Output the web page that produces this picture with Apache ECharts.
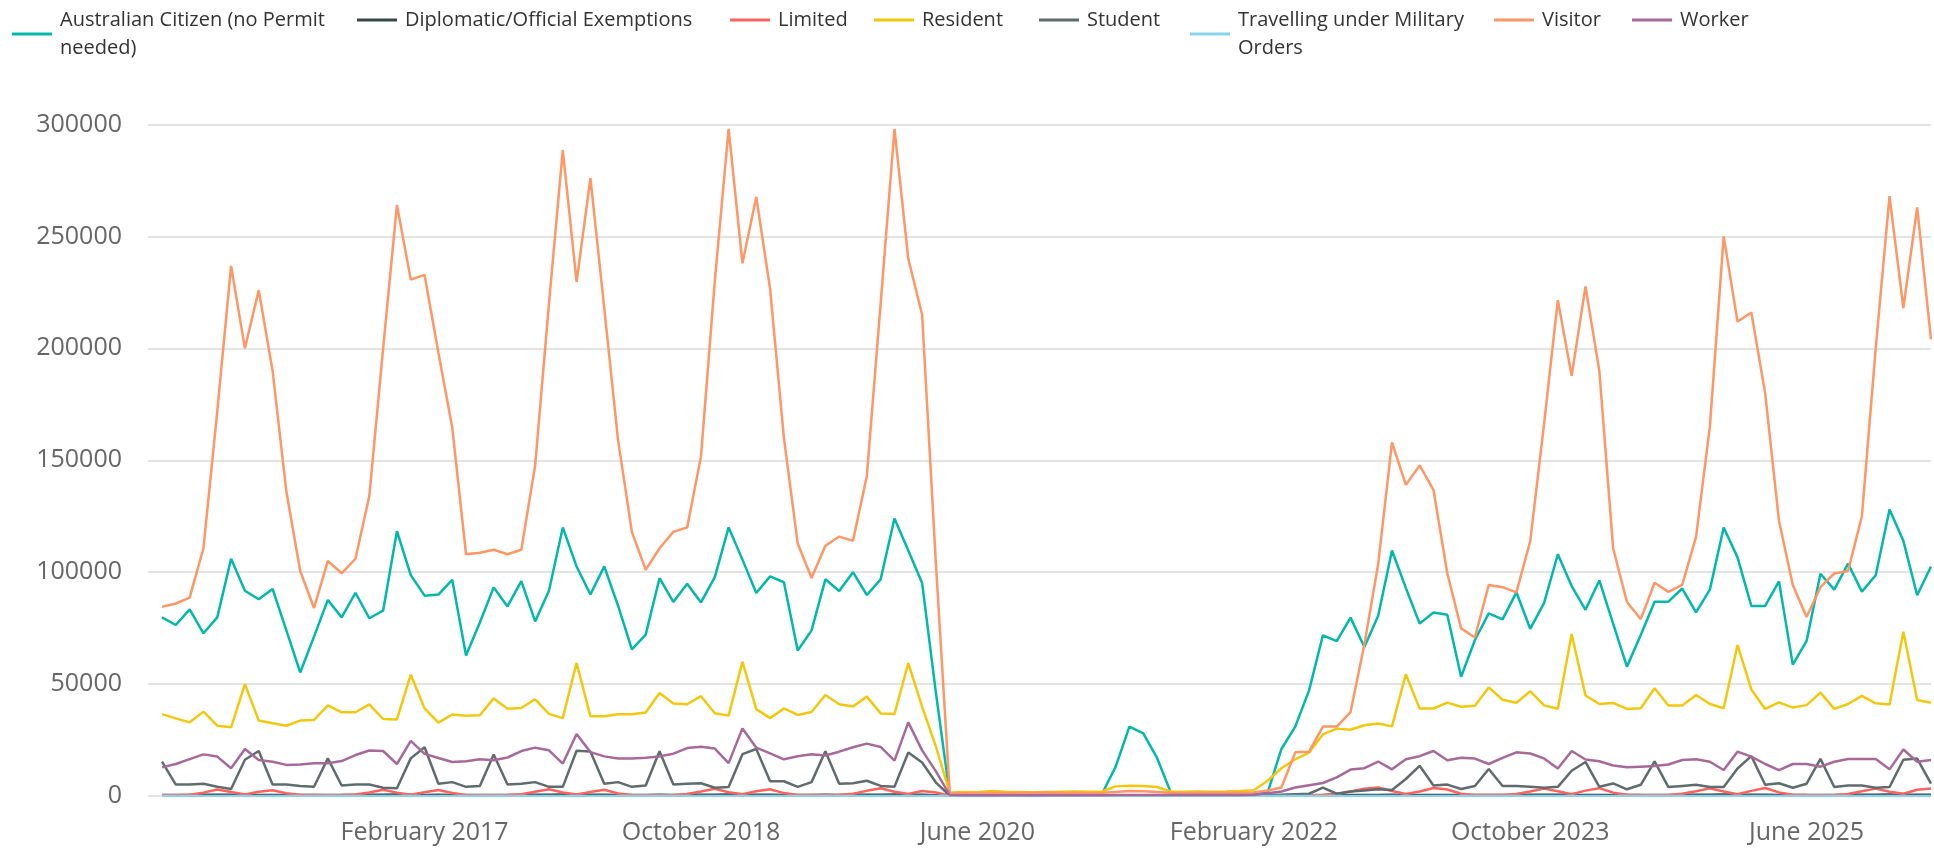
<!DOCTYPE html>
<html>
<head>
<meta charset="utf-8">
<script src="https://cdn.jsdelivr.net/npm/echarts@6/dist/echarts.min.js"></script>
<style>
  html, body { margin: 0; padding: 0; background: #ffffff; }
  #chart { width: 1934px; height: 855px; }
</style>
</head>
<body>
<div id="chart"></div>
<script>
// Monthly categories, July 2015 - March 2026
const months = [
  'July 2015','August 2015','September 2015','October 2015','November 2015','December 2015',
  'January 2016','February 2016','March 2016','April 2016','May 2016','June 2016','July 2016','August 2016','September 2016','October 2016','November 2016','December 2016',
  'January 2017','February 2017','March 2017','April 2017','May 2017','June 2017','July 2017','August 2017','September 2017','October 2017','November 2017','December 2017',
  'January 2018','February 2018','March 2018','April 2018','May 2018','June 2018','July 2018','August 2018','September 2018','October 2018','November 2018','December 2018',
  'January 2019','February 2019','March 2019','April 2019','May 2019','June 2019','July 2019','August 2019','September 2019','October 2019','November 2019','December 2019',
  'January 2020','February 2020','March 2020','April 2020','May 2020','June 2020','July 2020','August 2020','September 2020','October 2020','November 2020','December 2020',
  'January 2021','February 2021','March 2021','April 2021','May 2021','June 2021','July 2021','August 2021','September 2021','October 2021','November 2021','December 2021',
  'January 2022','February 2022','March 2022','April 2022','May 2022','June 2022','July 2022','August 2022','September 2022','October 2022','November 2022','December 2022',
  'January 2023','February 2023','March 2023','April 2023','May 2023','June 2023','July 2023','August 2023','September 2023','October 2023','November 2023','December 2023',
  'January 2024','February 2024','March 2024','April 2024','May 2024','June 2024','July 2024','August 2024','September 2024','October 2024','November 2024','December 2024',
  'January 2025','February 2025','March 2025','April 2025','May 2025','June 2025','July 2025','August 2025','September 2025','October 2025','November 2025','December 2025',
  'January 2026','February 2026','March 2026'
];

// Tick labels shown on the x axis
const xTickLabels = ['February 2017','October 2018','June 2020','February 2022','October 2023','June 2025'];

const seriesNames = [
  'Australian Citizen (no Permit\nneeded)',
  'Diplomatic/Official Exemptions',
  'Limited',
  'Resident',
  'Student',
  'Travelling under Military\nOrders',
  'Visitor',
  'Worker'
];

const australianCitizen = [
  79800, 76400, 83400, 72700, 79800, 106000, 91700, 87900, 92500, 74000, 55200, 71200,
  87600, 79800, 90800, 79400, 82800, 118300, 98700, 89500, 90000, 96600, 62800, 77500,
  93200, 84700, 96000, 78000, 91700, 120000, 102500, 90000, 102600, 85000, 65500, 72100,
  97300, 86700, 94800, 86500, 97800, 120000, 105600, 90700, 98100, 95500, 65000, 74000,
  96800, 91600, 100000, 89800, 96800, 124000, 109700, 95200, 46000, 600, 500, 600,
  500, 600, 500, 600, 500, 600, 700, 600, 800, 13000, 31000, 28000,
  17000, 1500, 700, 600, 500, 600, 700, 800, 1500, 21000, 31000, 47200,
  71800, 69200, 79700, 66600, 80500, 109700, 93000, 77000, 82000, 81000, 53300, 69700,
  81600, 78900, 91000, 74700, 86200, 108000, 93800, 83200, 96300, 77000, 57800, 71900,
  86800, 86800, 92700, 82000, 92200, 120000, 106600, 84900, 84900, 95900, 58700, 69300,
  99300, 92200, 103800, 91300, 98600, 128000, 114000, 89700, 102500
];

const diplomatic = [
  500, 450, 480, 520, 560, 600, 520, 480, 500, 470, 450, 460,
  480, 470, 500, 540, 580, 620, 540, 500, 510, 480, 460, 470,
  500, 480, 510, 550, 590, 630, 560, 510, 520, 490, 470, 480,
  510, 490, 520, 560, 600, 640, 570, 520, 530, 500, 480, 490,
  520, 500, 530, 570, 610, 650, 580, 530, 300, 60, 50, 50,
  50, 60, 60, 50, 60, 70, 60, 60, 70, 80, 90, 80,
  80, 70, 70, 70, 70, 80, 80, 90, 110, 180, 250, 300,
  350, 380, 420, 460, 500, 560, 500, 470, 480, 460, 440, 450,
  470, 460, 490, 530, 570, 610, 540, 490, 500, 480, 460, 470,
  490, 480, 510, 550, 590, 630, 560, 510, 520, 490, 470, 480,
  500, 490, 520, 560, 600, 640, 570, 520, 530
];

const limited = [
  300, 300, 600, 1500, 2900, 1800, 700, 1900, 2600, 1200, 500, 400,
  300, 400, 700, 1600, 2800, 1500, 600, 1700, 2700, 1300, 500, 300,
  300, 400, 800, 1900, 3000, 1600, 700, 1800, 2800, 1100, 400, 300,
  300, 500, 900, 2000, 3200, 1700, 800, 2100, 3000, 1300, 500, 400,
  400, 600, 1000, 2300, 3500, 1900, 900, 2200, 1600, 100, 100, 100,
  100, 100, 100, 100, 100, 100, 100, 100, 100, 100, 200, 200,
  100, 100, 100, 100, 100, 100, 100, 100, 200, 300, 400, 500,
  600, 1000, 2000, 3200, 3800, 2200, 900, 2000, 3600, 2900, 1000, 500,
  400, 500, 900, 2000, 3300, 2100, 800, 2400, 3500, 1500, 600, 400,
  300, 500, 1000, 2100, 3400, 2000, 800, 2300, 3600, 1600, 600, 400,
  300, 500, 900, 2100, 3300, 1900, 1000, 2800, 3400
];

const resident = [
  36600, 34700, 32900, 37700, 31400, 30700, 50000, 33700, 32500, 31400, 33700, 34000,
  40500, 37400, 37400, 40900, 34400, 34200, 54200, 39100, 32800, 36400, 35900, 36100,
  43600, 39000, 39300, 43200, 36700, 34800, 59400, 35600, 35600, 36500, 36500, 37300,
  46000, 41300, 41000, 44600, 37000, 35900, 60000, 38800, 34800, 39100, 36200, 37500,
  45100, 41000, 40000, 44400, 36900, 36600, 59400, 39900, 22000, 1500, 1800, 1700,
  2200, 1900, 1800, 1700, 1800, 1900, 2000, 1900, 2000, 4300, 4600, 4500,
  4000, 2000, 1900, 2000, 1900, 2000, 2200, 2600, 6800, 12400, 16400, 19400,
  27500, 30100, 29600, 31600, 32400, 31100, 54400, 39100, 39100, 41700, 39900, 40300,
  48500, 43000, 41700, 46800, 40500, 39000, 72400, 44900, 41100, 41600, 38900, 39200,
  48100, 40400, 40400, 45100, 41100, 39200, 67500, 47600, 38900, 41800, 39500, 40600,
  46200, 38900, 41100, 44700, 41400, 40900, 73400, 42900, 41700
];

const student = [
  15400, 5100, 5100, 5500, 4100, 3100, 16200, 20100, 5100, 5100, 4500, 4100,
  16800, 4700, 5100, 5100, 3700, 3500, 16800, 21800, 5500, 6200, 4100, 4500,
  18500, 5100, 5500, 6200, 4100, 4100, 20200, 19900, 5500, 6200, 4100, 4700,
  20000, 5100, 5500, 5700, 3700, 4000, 18700, 21000, 6600, 6600, 4100, 6200,
  20000, 5500, 5700, 6800, 4500, 4100, 19400, 15000, 6000, 200, 200, 200,
  200, 200, 200, 200, 200, 200, 200, 200, 200, 300, 300, 300,
  300, 200, 200, 200, 200, 200, 300, 300, 400, 600, 800, 1000,
  3700, 1000, 2000, 2500, 3000, 2700, 7600, 13500, 4700, 5100, 3100, 4500,
  12100, 4500, 4500, 4100, 3700, 4100, 11300, 15200, 4100, 5600, 3000, 5000,
  15500, 4000, 4500, 5000, 4000, 4000, 12300, 17800, 5000, 5700, 3700, 5500,
  16600, 4000, 4700, 4700, 3700, 4000, 16200, 16700, 5500
];

const military = [
  40, 40, 50, 40, 40, 50, 40, 40, 50, 40, 40, 50,
  40, 40, 50, 40, 40, 50, 40, 40, 50, 40, 40, 50,
  40, 40, 50, 40, 40, 50, 40, 40, 50, 40, 40, 50,
  40, 40, 50, 40, 40, 50, 40, 40, 50, 40, 40, 50,
  40, 40, 50, 40, 40, 50, 40, 40, 30, 10, 10, 10,
  10, 10, 10, 10, 10, 10, 10, 10, 10, 10, 10, 10,
  10, 10, 10, 10, 10, 10, 10, 10, 20, 20, 30, 30,
  40, 40, 50, 40, 40, 50, 40, 40, 50, 40, 40, 50,
  40, 40, 50, 40, 40, 50, 40, 40, 50, 40, 40, 50,
  40, 40, 50, 40, 40, 50, 40, 40, 50, 40, 40, 50,
  40, 40, 50, 40, 40, 50, 40, 40, 50
];

const visitor = [
  84500, 86000, 88600, 110700, 172000, 236800, 200000, 226000, 190000, 136000, 100500, 84000,
  105000, 99500, 106000, 134000, 200000, 264000, 230700, 232800, 198000, 164700, 108000, 108700,
  110000, 108000, 110000, 147700, 220000, 288600, 229700, 276000, 218000, 159000, 118000, 101000,
  110700, 118000, 120000, 151700, 230000, 298000, 238000, 267600, 226600, 160000, 112800, 97400,
  111800, 115900, 114000, 143000, 220000, 298000, 240000, 215000, 103600, 1500, 1200, 1300,
  1400, 1300, 1500, 1400, 1600, 1500, 1400, 1300, 1400, 1800, 2200, 2100,
  1800, 1400, 1300, 1400, 1500, 1400, 1500, 1600, 2500, 3800, 19500, 19800,
  31000, 31000, 37500, 67700, 103600, 158000, 139000, 147700, 136800, 99500, 74900, 70800,
  94300, 93300, 91000, 113800, 166000, 221500, 187700, 227700, 190000, 110700, 86700, 79000,
  95300, 91200, 94300, 115800, 165000, 250000, 212000, 216000, 180000, 123000, 94300, 80000,
  93300, 99400, 100500, 125000, 200000, 268000, 218000, 263000, 204000
];

const worker = [
  12800, 14300, 16500, 18600, 17600, 12400, 21000, 16100, 15300, 13900, 14100, 14600,
  14600, 15600, 18300, 20300, 20100, 14300, 24600, 18800, 17000, 15200, 15500, 16400,
  16000, 17200, 20100, 21600, 20400, 14500, 27700, 19600, 17700, 16800, 16700, 17100,
  17700, 18900, 21400, 22000, 21200, 14700, 30200, 21600, 19000, 16400, 17800, 18700,
  18100, 19800, 21800, 23400, 21900, 15800, 32900, 20400, 11000, 400, 300, 300,
  300, 300, 300, 300, 300, 300, 300, 300, 300, 400, 500, 500,
  500, 400, 400, 400, 400, 400, 500, 600, 1200, 2000, 3800, 4800,
  5800, 8300, 11800, 12400, 15400, 11900, 16400, 17800, 20100, 16000, 17100, 16700,
  14300, 17000, 19500, 19000, 16800, 12300, 20100, 16300, 15500, 13600, 12800, 13100,
  13400, 14100, 16100, 16400, 15300, 11600, 19800, 17600, 14300, 11600, 14300, 14300,
  13100, 15300, 16500, 16500, 16500, 11900, 20800, 15300, 16100
];

const yTicks = [0, 50000, 100000, 150000, 200000, 250000, 300000];

const seriesData = [australianCitizen, diplomatic, limited, resident, student, military, visitor, worker];
const colors = ['#01B8AA', '#374649', '#FD625E', '#F2C80F', '#5F6B6D', '#8AD4EB', '#FE9666', '#A66999'];
const legendLefts = [12, 357, 730, 874, 1039, 1190, 1494, 1632];

const FONT = "'Segoe UI', 'Open Sans', sans-serif";

const chart = echarts.init(document.getElementById('chart'), null, { renderer: 'canvas' });

const legends = seriesNames.map((name, k) => ({
  data: [name],
  left: legendLefts[k],
  top: 6,
  padding: 0,
  itemWidth: 40,
  itemHeight: 3,
  icon: 'rect',
  selectedMode: false,
  textStyle: {
    fontFamily: FONT,
    fontSize: 20,
    lineHeight: 28,
    color: '#333333',
    padding: [0, 0, 0, 3]
  }
}));

const option = {
  animation: false,
  color: colors,
  legend: legends,
  grid: [
    { left: 162, right: 3, top: 124.5, bottom: 59 },
    { left: 148, right: 3, top: 124.5, bottom: 59 }
  ],
  xAxis: [
    {
      type: 'category',
      gridIndex: 0,
      data: months,
      boundaryGap: false,
      axisLine: { show: false },
      axisTick: { show: false },
      splitLine: { show: false },
      axisLabel: {
        interval: (index, value) => xTickLabels.indexOf(value) !== -1,
        color: '#666666',
        fontFamily: FONT,
        fontSize: 25,
        margin: 24
      }
    },
    { type: 'value', gridIndex: 1, show: false }
  ],
  yAxis: [
    {
      type: 'value',
      gridIndex: 0,
      min: yTicks[0],
      max: yTicks[yTicks.length - 1],
      interval: 50000,
      axisLine: { show: false },
      axisTick: { show: false },
      splitLine: { show: false },
      axisLabel: {
        color: '#666666',
        fontFamily: FONT,
        fontSize: 25,
        margin: 40,
        formatter: (v) => String(v)
      }
    },
    {
      type: 'value',
      gridIndex: 1,
      min: yTicks[0],
      max: yTicks[yTicks.length - 1],
      interval: 50000,
      axisLine: { show: false },
      axisTick: { show: false },
      axisLabel: { show: false },
      splitLine: { show: true, lineStyle: { color: '#DADADA', width: 1.5 } }
    }
  ],
  series: seriesNames.map((name, k) => ({
    name: name,
    type: 'line',
    xAxisIndex: 0,
    yAxisIndex: 0,
    data: seriesData[k],
    showSymbol: false,
    symbol: 'none',
    lineStyle: { width: 2.5, color: colors[k] },
    itemStyle: { color: colors[k] },
    emphasis: { disabled: true }
  }))
};

chart.setOption(option);
</script>
</body>
</html>
